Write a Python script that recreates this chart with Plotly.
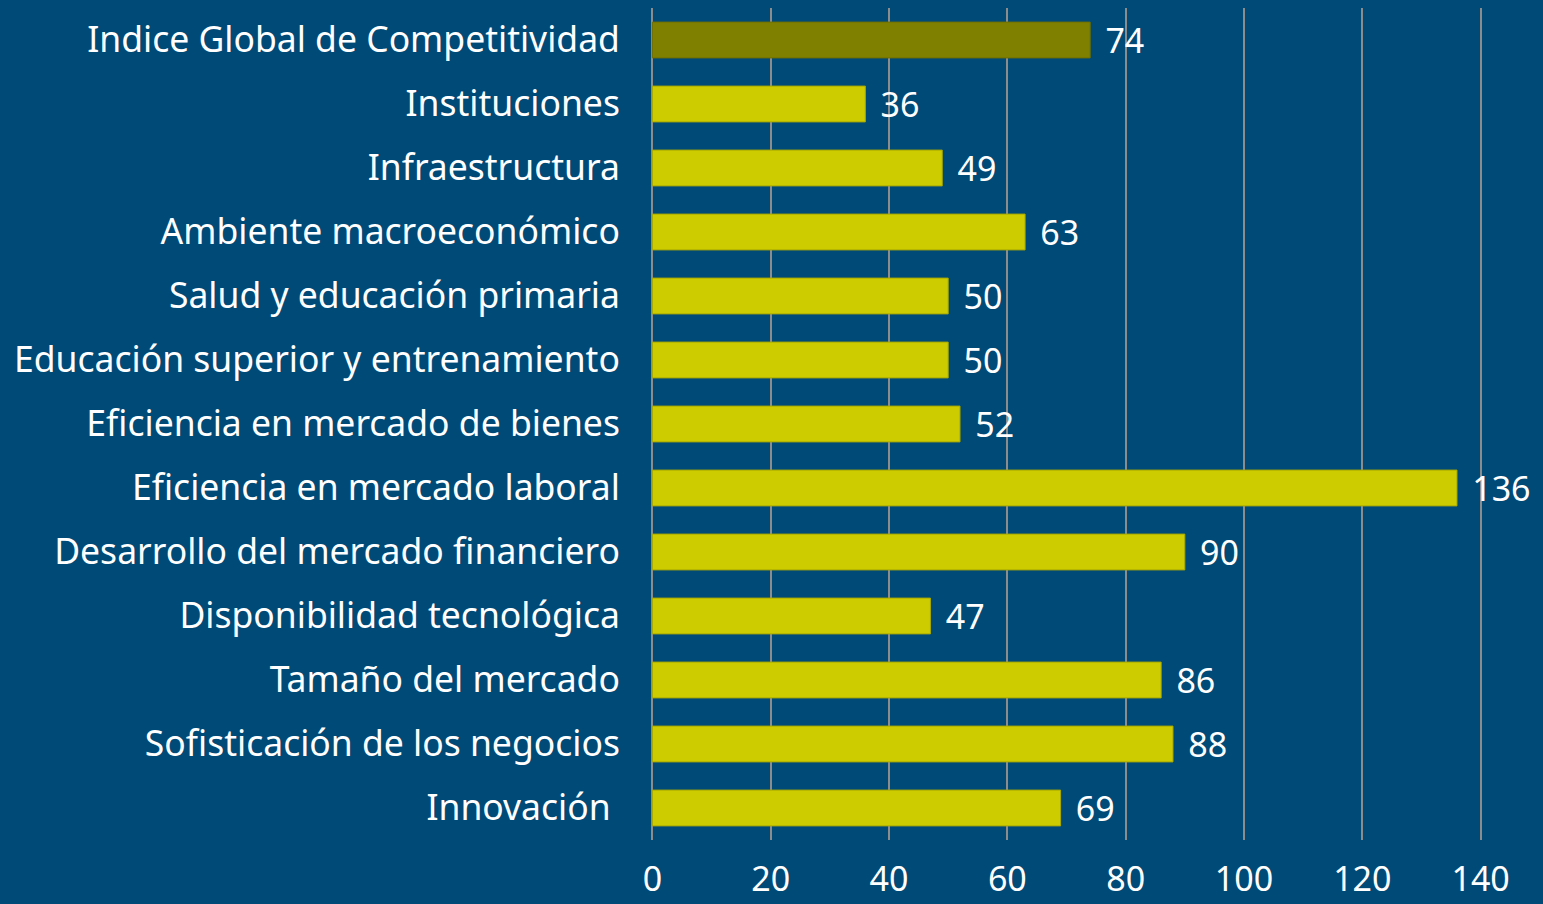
import plotly.graph_objects as go

categories = [
    "Indice Global de Competitividad",
    "Instituciones",
    "Infraestructura",
    "Ambiente macroeconómico",
    "Salud y educación primaria",
    "Educación superior y entrenamiento",
    "Eficiencia en mercado de bienes",
    "Eficiencia en mercado laboral",
    "Desarrollo del mercado financiero",
    "Disponibilidad tecnológica",
    "Tamaño del mercado",
    "Sofisticación de los negocios",
    "Innovación\u00a0",
]
values = [74, 36, 49, 63, 50, 50, 52, 136, 90, 47, 86, 88, 69]
x_ticks = [0, 20, 40, 60, 80, 100, 120, 140]

BG = "#004A78"
colors = ["#808000"] + ["#CCCC00"] * (len(values) - 1)
outlines = ["#6E6E00"] + ["#A8A800"] * (len(values) - 1)
FONT = "Noto Sans"

fig = go.Figure(go.Bar(
    x=values,
    y=categories,
    orientation="h",
    marker=dict(color=colors, line=dict(color=outlines, width=1)),
    text=values,
    texttemplate="\u00a0\u200a%{x}",
    textposition="outside",
    textfont=dict(color="white", size=34, family=FONT),
    constraintext="none",
    cliponaxis=False,
    hoverinfo="skip",
))

fig.update_layout(
    width=1543, height=904,
    paper_bgcolor=BG, plot_bgcolor=BG,
    margin=dict(l=650, r=60, t=8, b=64),
    bargap=0.44,
    showlegend=False,
    font=dict(family=FONT, color="white", size=35.5),
)
fig.update_xaxes(
    range=[-0.4, 140.4], tickvals=x_ticks,
    showgrid=True, gridcolor="#8C8C8C", gridwidth=2,
    zeroline=False, showline=False, automargin=False,
    ticks="outside", ticklen=9, tickcolor="rgba(0,0,0,0)",
    tickfont=dict(size=34, color="white", family=FONT),
)
fig.update_yaxes(
    categoryorder="array", categoryarray=categories[::-1],
    autorange=False, range=[-0.5, len(categories) - 0.5],
    showgrid=False, zeroline=False, showline=False, automargin=False,
    ticks="outside", ticklen=22, tickcolor="rgba(0,0,0,0)",
    tickfont=dict(size=35.5, color="white", family=FONT),
)

fig.write_html(
    "out.html",
    config={"displayModeBar": False},
    post_script="document.body.style.margin='0';",
)
